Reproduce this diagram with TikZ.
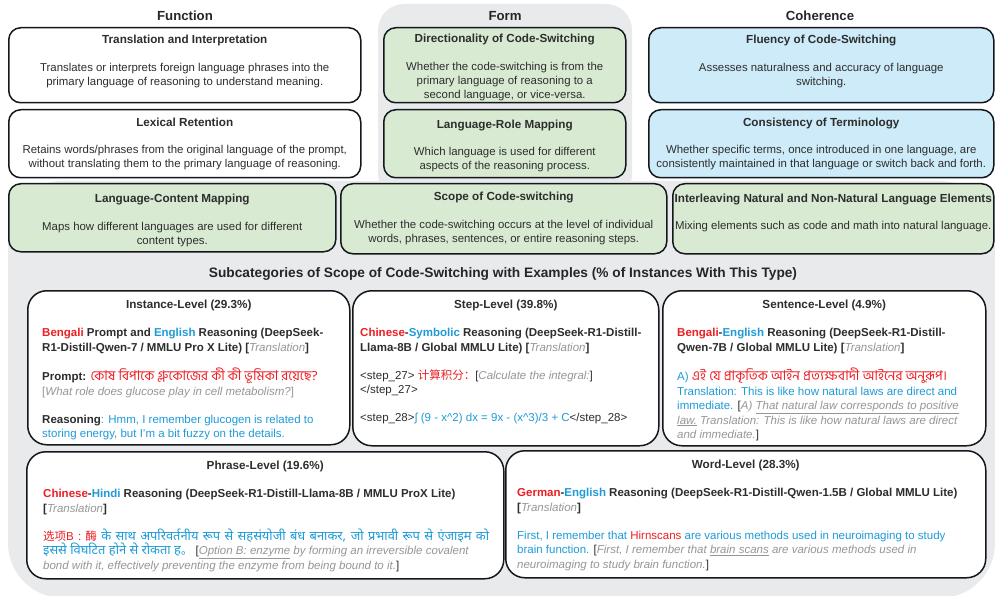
\documentclass[tikz,border=0pt]{standalone}
\usepackage{fontspec}
\setmainfont{Liberation Sans}
\newfontfamily\bnfont[Script=Bengali,Scale=1.17]{Hind Siliguri}
\newfontfamily\hifont[Script=Devanagari,Scale=1.12]{Noto Sans}
\newfontfamily\zhfont{Noto Sans CJK SC}
\usepackage{tikz}
\usetikzlibrary{positioning}
\definecolor{csgreen}{RGB}{217,234,211}
\definecolor{csblue}{RGB}{205,235,248}
\definecolor{csgrey}{RGB}{233,234,236}
\definecolor{boxline}{RGB}{20,24,28}
\definecolor{bodytext}{RGB}{45,45,45}
\definecolor{langred}{RGB}{237,30,36}
\definecolor{langblue}{RGB}{30,155,215}
\definecolor{transgrey}{RGB}{150,150,150}
\newcommand{\srclang}[1]{\textcolor{langred}{#1}}
\newcommand{\tgtlang}[1]{\textcolor{langblue}{#1}}
\newcommand{\transl}[1]{{\mdseries\itshape\color{transgrey}#1}}
\newcommand{\cattitle}[1]{{\fontsize{11.7}{14}\selectfont\bfseries #1}}

\begin{document}
\begin{tikzpicture}[
  x=1pt, y=-1pt,
  catbox/.style={draw=boxline, line width=1.5pt, rounded corners=12pt, anchor=north west, inner sep=0pt},
  fnbox/.style={catbox, fill=white},
  fmbox/.style={catbox, fill=csgreen},
  cobox/.style={catbox, fill=csblue},
  exbox/.style={catbox, fill=white, rounded corners=19pt},
  cattext/.style={align=center, inner sep=0pt, anchor=north, text=bodytext, font=\fontsize{11.4}{14}\selectfont},
  extitle/.style={inner sep=0pt, anchor=north, text=bodytext, font=\fontsize{11.7}{14}\selectfont\bfseries},
  extext/.style={align=left, inner sep=0pt, anchor=north west, text=bodytext, font=\fontsize{11.5}{14.5}\selectfont},
  head/.style={inner sep=0pt, text=black!85, font=\fontsize{13.2}{15}\selectfont\bfseries}
]
\useasboundingbox (0,0) rectangle (995,596);
% grey backdrop of the Form column and the examples panel
\fill[csgrey, rounded corners=26pt] (378,4) rectangle (632,200);
\fill[csgrey, rounded corners=55pt] (8,181) rectangle (995,598);

% column headings
\node[head] (hfunc) at (185,16) {Function};
\node[head] (hform) at (505,16) {Form};
\node[head] (hcoh) at (820,16) {Coherence};

% first row
\node[fnbox, minimum width=352pt, minimum height=75pt] (fn1) at (8,27) {};
\node[cattext, below=8pt of fn1.north] (fn1t) {\cattitle{Translation and Interpretation}\\[14pt]
  Translates or interprets foreign language phrases into the\\
  primary language of reasoning to understand meaning.};
\node[fmbox, minimum width=242pt, minimum height=75pt] (fm1) at (383,27) {};
\node[cattext, below=7pt of fm1.north] (fm1t) {\cattitle{Directionality of Code-Switching}\\[14pt]
  Whether the code-switching is from the\\
  primary language of reasoning to a\\
  second language, or vice-versa.};
\node[cobox, minimum width=345pt, minimum height=75pt] (co1) at (648,27) {};
\node[cattext, below=8pt of co1.north] (co1t) {\cattitle{Fluency of Code-Switching}\\[14pt]
  Assesses naturalness and accuracy of language\\
  switching.};

% second row
\node[fnbox, minimum width=352pt, minimum height=68pt] (fn2) at (8,109) {};
\node[cattext, below=9pt of fn2.north] (fn2t) {\cattitle{Lexical Retention}\\[13pt]
  Retains words/phrases from the original language of the prompt,\\
  without translating them to the primary language of reasoning.};
\node[fmbox, minimum width=242pt, minimum height=68pt] (fm2) at (383,109) {};
\node[cattext, below=11pt of fm2.north] (fm2t) {\cattitle{Language-Role Mapping}\\[13pt]
  Which language is used for different\\
  aspects of the reasoning process.};
\node[cobox, minimum width=345pt, minimum height=68pt] (co2) at (648,109) {};
\node[cattext, below=9pt of co2.north] (co2t) {\cattitle{Consistency of Terminology}\\[13pt]
  Whether specific terms, once introduced in one language, are\\
  consistently maintained in that language or switch back and forth.};

% third row
\node[fmbox, minimum width=327pt, minimum height=68pt] (lcm) at (8,183) {};
\node[cattext, below=11pt of lcm.north] (lcmt) {\cattitle{Language-Content Mapping}\\[14pt]
  Maps how different languages are used for different\\
  content types.};
\node[fmbox, minimum width=326pt, minimum height=70pt] (scope) at (340,183) {};
\node[cattext, below=9pt of scope.north] (scopet) {\cattitle{Scope of Code-switching}\\[14pt]
  Whether the code-switching occurs at the level of individual\\
  words, phrases, sentences, or entire reasoning steps.};
\node[fmbox, minimum width=321pt, minimum height=70pt] (ilv) at (672,183) {};
\node[cattext, below=11pt of ilv.north] (ilvt) {\cattitle{Interleaving Natural and Non-Natural Language Elements}\\[13pt]
  Mixing elements such as code and math into natural language.};

\node[head, font=\fontsize{13.7}{15}\selectfont\bfseries] (hsub) at (503,274) {Subcategories of Scope of Code-Switching with Examples (\% of Instances With This Type)};

% examples
\node[exbox, minimum width=322pt, minimum height=154pt] (inst) at (27,290) {};
\node[extitle, below=10pt of inst.north] (instt) {Instance-Level (29.3\%)};
\node[extext, below right=38pt and 15pt of inst.north west] (instb) {%
  {\bfseries\srclang{Bengali} Prompt and \tgtlang{English} Reasoning (DeepSeek-}\\
  {\bfseries R1-Distill-Qwen-7 / MMLU Pro X Lite) [\transl{Translation}]}\\[13.5pt]
  {\bfseries Prompt:} {\color{langred}\bnfont কোষ বিপাকে গ্লুকোজের কী কী ভূমিকা রয়েছে?}\\
  {\color{transgrey}[\transl{What role does glucose play in cell metabolism?}]}\\[13.5pt]
  {\bfseries Reasoning}{\color{langblue}: Hmm, I remember glucogen is related to}\\
  {\color{langblue}storing energy, but I'm a bit fuzzy on the details.}};

\node[exbox, minimum width=306pt, minimum height=155pt] (stepl) at (352,290) {};
\node[extitle, below=10pt of stepl.north] (steplt) {Step-Level (39.8\%)};
\node[extext, below right=38pt and 8pt of stepl.north west] (steplb) {%
  {\bfseries\srclang{Chinese}-\tgtlang{Symbolic} Reasoning (DeepSeek-R1-Distill-}\\
  {\bfseries Llama-8B / Global MMLU Lite) [\transl{Translation}]}\\[13.5pt]
  <step\_27> {\color{langred}\zhfont 计算积分：}[\transl{Calculate the integral:}]\\
  </step\_27>\\[13.5pt]
  <step\_28>{\color{langblue}∫ (9 - x\textasciicircum 2) dx = 9x - (x\textasciicircum 3)/3 + C}</step\_28>};

\node[exbox, minimum width=323pt, minimum height=155pt] (sent) at (662,290) {};
\node[extitle, below=10pt of sent.north] (sentt) {Sentence-Level (4.9\%)};
\node[extext, below right=38pt and 15pt of sent.north west] (sentb) {%
  {\bfseries\srclang{Bengali}-\tgtlang{English} Reasoning (DeepSeek-R1-Distill-}\\
  {\bfseries Qwen-7B / Global MMLU Lite) [\transl{Translation}]}\\[13.5pt]
  {\color{langblue}A)} {\color{langred}\bnfont এই যে প্রাকৃতিক আইন প্রত্যক্ষবাদী আইনের অনুরূপ।}\\
  {\color{langblue}Translation: This is like how natural laws are direct and}\\
  {\color{langblue}immediate.} [\transl{A) \underline{That natural law corresponds to positive}}\\
  \transl{\underline{law.} Translation: This is like how natural laws are direct}\\
  \transl{and immediate.}]};

\node[exbox, minimum width=477pt, minimum height=127pt] (phr) at (26,451) {};
\node[extitle, below=10pt of phr.north] (phrt) {Phrase-Level (19.6\%)};
\node[extext, below right=38pt and 17pt of phr.north west] (phrb) {%
  {\bfseries\srclang{Chinese}-\tgtlang{Hindi} Reasoning (DeepSeek-R1-Distill-Llama-8B / MMLU ProX Lite)}\\
  {\bfseries [\transl{Translation}]}\\[13.5pt]
  \makebox[446pt][s]{{\color{langred}{\zhfont 选项}B : {\zhfont 酶}}{\color{langblue}\hifont{} के साथ अपरिवर्तनीय रूप से सहसंयोजी बंध बनाकर, जो प्रभावी रूप से एंजाइम को}}\\
  {\color{langblue}\hifont इससे विघटित होने से रोकता ह{\zhfont 。}} [\transl{\underline{Option B: enzyme} by forming an irreversible covalent}\\
  \transl{bond with it, effectively preventing the enzyme from being bound to it.}]};

\node[exbox, minimum width=480pt, minimum height=127pt] (word) at (505,450) {};
\node[extitle, below=10pt of word.north] (wordt) {Word-Level (28.3\%)};
\node[extext, below right=38pt and 12pt of word.north west] (wordb) {%
  {\bfseries\srclang{German}-\tgtlang{English} Reasoning (DeepSeek-R1-Distill-Qwen-1.5B / Global MMLU Lite)}\\
  {\bfseries [\transl{Translation}]}\\[13.5pt]
  {\color{langblue}First, I remember that \srclang{Hirnscans} are various methods used in neuroimaging to study}\\
  {\color{langblue}brain function.} [\transl{First, I remember that \underline{brain scans} are various methods used in}\\
  \transl{neuroimaging to study brain function.}]};
\end{tikzpicture}
\end{document}
